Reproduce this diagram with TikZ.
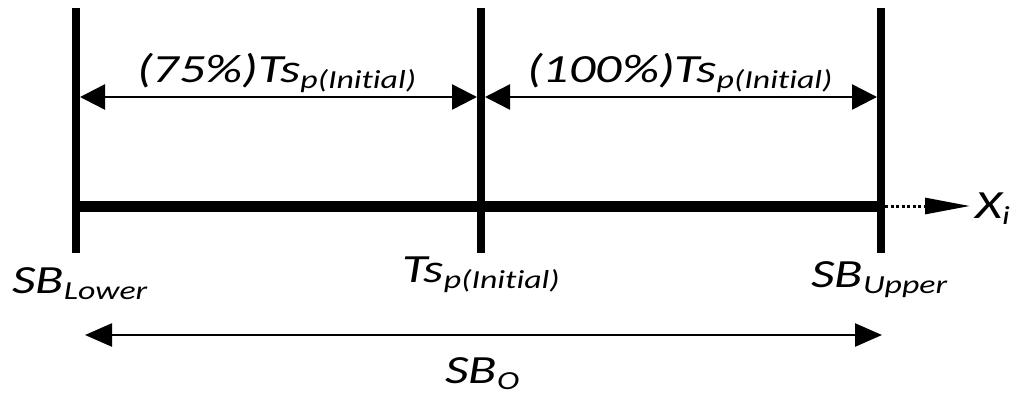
\documentclass[tikz,border=0pt]{standalone}
\usepackage{fontspec}
\usepackage{graphicx}
\setmainfont[Ligatures=NoCommon,RawFeature=-liga]{Carlito}
\usetikzlibrary{arrows.meta}
\newcommand{\stlbl}[2]{\scalebox{1.3}[1]{\fontsize{40}{40}\selectfont\itshape #1\raisebox{-6pt}{\fontsize{26}{26}\selectfont\itshape #2}}}
\tikzset{
  vbar/.style={line width=8pt},
  axis/.style={line width=11pt},
  dimarrow/.style={line width=2.5pt,{Triangle[length=25pt,width=25pt]}-{Triangle[length=25pt,width=25pt]}},
  spanarrow/.style={line width=2.5pt,{Triangle[length=27pt,width=23pt]}-{Triangle[length=27pt,width=23pt]}},
  dotarrow/.style={line width=3pt,dash pattern=on 3pt off 2.5pt,-{Triangle[length=45pt,width=16pt]}},
  lbl/.style={inner sep=0pt,anchor=base west}
}
\begin{document}
\begin{tikzpicture}[x=1pt,y=-1pt]
\useasboundingbox (0,0) rectangle (1019,394);
% vertical bars
\coordinate (Lt) at (76,8);   \coordinate (Lb) at (76,253);
\coordinate (Mt) at (481,8);  \coordinate (Mb) at (481,253);
\coordinate (Rt) at (881,8);  \coordinate (Rb) at (881,253);
\draw[vbar] (Lt) -- (Lb);
\draw[vbar] (Mt) -- (Mb);
\draw[vbar] (Rt) -- (Rb);
% axis
\coordinate (axL) at (76,206); \coordinate (axR) at (881,206);
\draw[axis] (axL) -- (axR);
\coordinate (dS) at (885,206); \coordinate (dE) at (970,206);
\draw[dotarrow] (dS) -- (dE);
% top dimension arrows
\coordinate (a1) at (80,97);  \coordinate (a2) at (477,97);
\coordinate (b1) at (485,97); \coordinate (b2) at (877,97);
\draw[dimarrow] (a1) -- (a2);
\draw[dimarrow] (b1) -- (b2);
% bottom span arrow
\coordinate (s1) at (85,335); \coordinate (s2) at (882,335);
\draw[spanarrow] (s1) -- (s2);
% labels
\node[lbl] (t75) at (137,82) {\stlbl{(75\%)Ts}{p(Initial)}};
\node[lbl] (t100) at (527,82) {\stlbl{(100\%)Ts}{p(Initial)}};
\node[lbl] (sbl) at (12,293) {\stlbl{SB}{Lower}};
\node[lbl] (tsp) at (402,282) {\stlbl{Ts}{p(Initial)}};
\node[lbl] (sbu) at (811,287) {\stlbl{SB}{Upper}};
\node[lbl] (sbo) at (445,383) {\stlbl{SB}{O}};
\node[lbl] (xi) at (975,218) {\stlbl{X}{i}};
\end{tikzpicture}
\end{document}
